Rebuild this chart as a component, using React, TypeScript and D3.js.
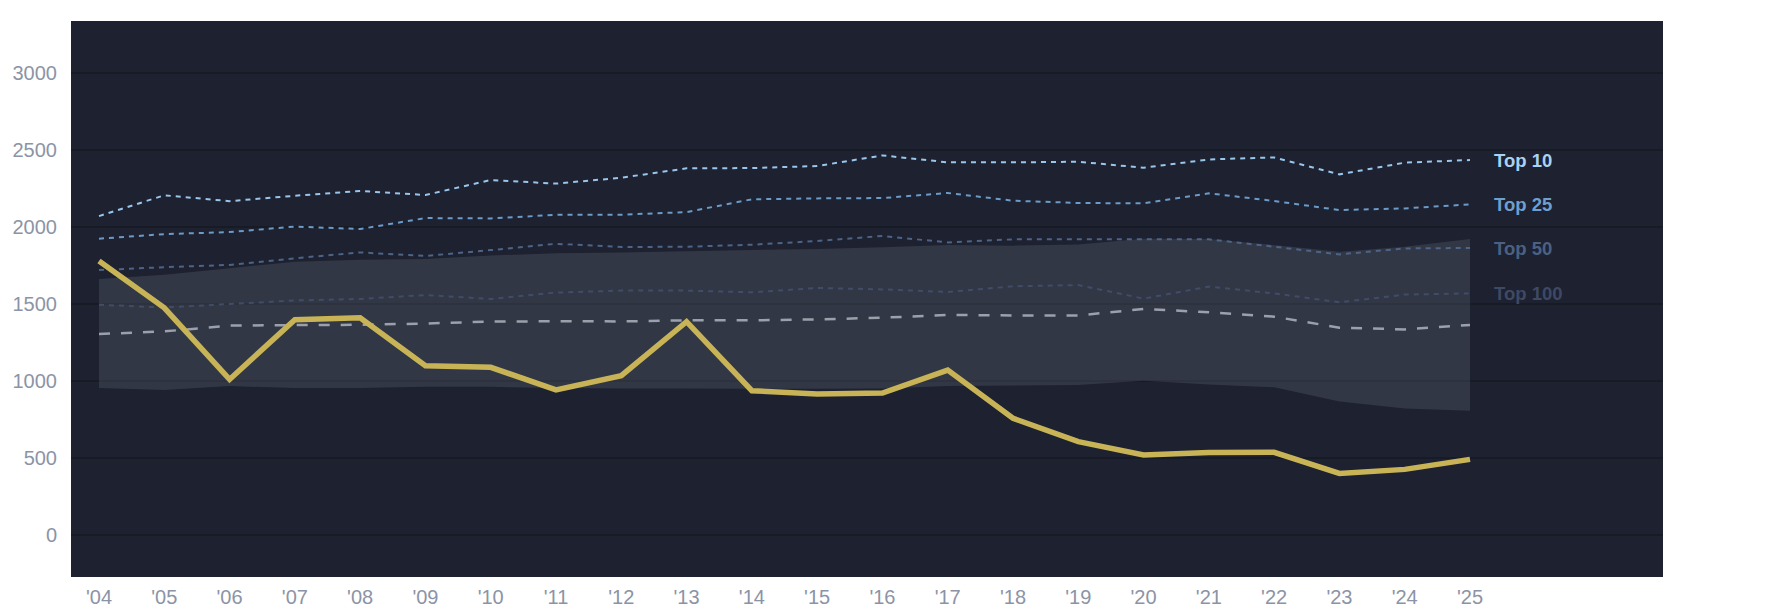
import * as d3 from "d3";

const YEARS = [
  2004, 2005, 2006, 2007, 2008, 2009, 2010, 2011, 2012, 2013, 2014,
  2015, 2016, 2017, 2018, 2019, 2020, 2021, 2022, 2023, 2024, 2025,
];
const YEAR_LABELS = [
  "'04", "'05", "'06", "'07", "'08", "'09", "'10", "'11", "'12", "'13", "'14",
  "'15", "'16", "'17", "'18", "'19", "'20", "'21", "'22", "'23", "'24", "'25",
];
const Y_TICKS = [0, 500, 1000, 1500, 2000, 2500, 3000];

const PLAYER = [
  1779, 1475, 1010, 1398, 1411, 1099, 1089, 942, 1035, 1385, 937,
  916, 922, 1071, 758, 606, 519, 535, 537, 400, 426, 491,
];
const TOP_10 = [
  2071, 2206, 2168, 2203, 2234, 2208, 2305, 2282, 2320, 2381, 2383,
  2396, 2465, 2420, 2420, 2424, 2385, 2439, 2452, 2342, 2418, 2435,
];
const TOP_25 = [
  1924, 1954, 1967, 2003, 1987, 2058, 2056, 2079, 2080, 2097, 2180,
  2186, 2188, 2221, 2171, 2156, 2154, 2219, 2169, 2110, 2121, 2147,
];
const TOP_50 = [
  1721, 1739, 1754, 1797, 1835, 1812, 1850, 1891, 1870, 1872, 1885,
  1909, 1942, 1900, 1920, 1920, 1920, 1920, 1872, 1822, 1861, 1864,
];
const TOP_100 = [
  1495, 1477, 1500, 1523, 1533, 1558, 1533, 1574, 1587, 1587, 1576,
  1604, 1595, 1578, 1615, 1623, 1535, 1613, 1569, 1511, 1561, 1569,
];
const MEDIAN = [
  1305, 1322, 1360, 1363, 1365, 1373, 1386, 1388, 1387, 1394, 1394,
  1400, 1411, 1429, 1426, 1426, 1468, 1446, 1418, 1346, 1335, 1364,
];
const BAND_HIGH = [
  1662, 1690, 1733, 1774, 1787, 1792, 1815, 1830, 1835, 1842, 1851,
  1857, 1868, 1883, 1879, 1887, 1924, 1922, 1883, 1840, 1872, 1922,
];
const BAND_LOW = [
  954, 942, 967, 954, 954, 962, 962, 954, 952, 952, 950,
  950, 952, 967, 970, 974, 1002, 978, 959, 866, 822, 807,
];

const TIERS = [
  { name: "Top 10", values: TOP_10, color: "#98c6ec", label: "#a9d2f3" },
  { name: "Top 25", values: TOP_25, color: "#6b9bc8", label: "#6f9fcc" },
  { name: "Top 50", values: TOP_50, color: "#4d6487", label: "#4b6182" },
  { name: "Top 100", values: TOP_100, color: "#414c67", label: "#3e4963" },
];

const W = 1785;
const H = 614;
const PLOT = { left: 71, top: 21, right: 1663, bottom: 577 };
const FONT = "'Liberation Sans', Arial, Helvetica, sans-serif";

export default function App() {
  const x = d3.scaleLinear().domain([2004, 2025]).range([99, 1470]);
  const y = d3
    .scaleLinear()
    .domain([-273, 3338])
    .range([PLOT.bottom, PLOT.top]);

  const line = d3
    .line<number>()
    .x((_, i) => x(YEARS[i]))
    .y((d) => y(d));

  const band = d3
    .area<number>()
    .x((_, i) => x(YEARS[i]))
    .y0((_, i) => y(BAND_LOW[i]))
    .y1((d) => y(d));

  const last = YEARS.length - 1;

  return (
    <svg
      width={W}
      height={H}
      style={{
        position: "absolute",
        left: 0,
        top: 0,
        display: "block",
        fontFamily: FONT,
      }}
    >
      {/* plot background */}
      <rect
        x={PLOT.left}
        y={PLOT.top}
        width={PLOT.right - PLOT.left}
        height={PLOT.bottom - PLOT.top}
        fill="#1d2130"
      />

      {/* grid */}
      {Y_TICKS.map((t) => (
        <line
          key={t}
          x1={PLOT.left}
          x2={PLOT.right}
          y1={y(t)}
          y2={y(t)}
          stroke="#171b25"
          strokeWidth={2}
        />
      ))}

      {/* spread band */}
      <path d={band(BAND_HIGH) ?? ""} fill="rgb(99,106,121)" opacity={0.3} />

      {/* tier lines */}
      {[...TIERS].reverse().map((t) => (
        <path
          key={t.name}
          d={line(t.values) ?? ""}
          fill="none"
          stroke={t.color}
          strokeWidth={2}
          strokeDasharray="5,5"
        />
      ))}

      {/* median */}
      <path
        d={line(MEDIAN) ?? ""}
        fill="none"
        stroke="#9ba1ac"
        strokeWidth={2.5}
        strokeDasharray="11,11"
      />

      {/* player */}
      <path
        d={line(PLAYER) ?? ""}
        fill="none"
        stroke="#c8b456"
        strokeWidth={5.5}
      />

      {/* tier labels */}
      {TIERS.map((t) => (
        <text
          key={t.name}
          x={x(YEARS[last]) + 24}
          y={y(t.values[last])}
          dy="0.36em"
          fill={t.label}
          fontSize={18.5}
          fontWeight="bold"
        >
          {t.name}
        </text>
      ))}

      {/* y axis */}
      {Y_TICKS.map((t) => (
        <text
          key={t}
          x={57}
          y={y(t)}
          dy="0.36em"
          textAnchor="end"
          fill="#8b94a6"
          fontSize={20}
        >
          {t}
        </text>
      ))}

      {/* x axis */}
      {YEARS.map((yr, i) => (
        <text
          key={yr}
          x={x(yr)}
          y={604}
          textAnchor="middle"
          fill="#8b94a6"
          fontSize={20}
        >
          {YEAR_LABELS[i]}
        </text>
      ))}
    </svg>
  );
}
